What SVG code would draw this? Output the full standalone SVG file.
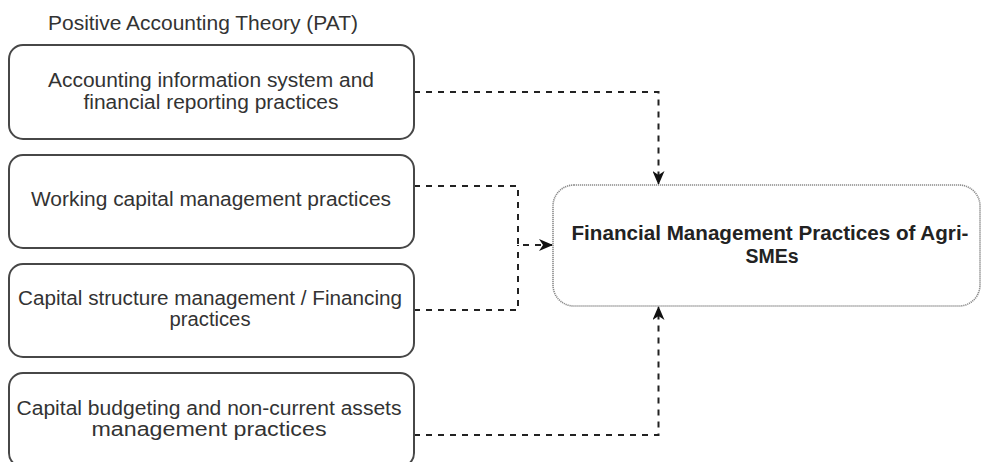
<svg xmlns="http://www.w3.org/2000/svg" width="982" height="462" viewBox="0 0 982 462">
<defs>
<style>
.box{fill:#ffffff;stroke:#474747;stroke-width:2}
.main{fill:#ffffff;stroke:#8a8a8a;stroke-width:1.6;stroke-dasharray:1.2 0.8}
.t{font-family:"Liberation Sans",Arial,sans-serif;font-size:20px;fill:#333333;text-anchor:middle}
.tb{font-family:"Liberation Sans",Arial,sans-serif;font-size:19.5px;font-weight:bold;fill:#222222;text-anchor:middle}
.title{font-family:"Liberation Sans",Arial,sans-serif;font-size:20px;fill:#333333}
.c{fill:none;stroke:#222222;stroke-width:2;stroke-dasharray:6 6}
</style>
<marker id="arr" viewBox="0 0 14 12" refX="13" refY="6" markerWidth="14" markerHeight="12" markerUnits="userSpaceOnUse" orient="auto">
<path d="M0,0 L14,6 L0,12 L4,6 Z" fill="#111111"/>
</marker>
</defs>
<rect width="982" height="462" fill="#ffffff"/>
<text class="title" x="48" y="30" textLength="310" lengthAdjust="spacingAndGlyphs">Positive Accounting Theory (PAT)</text>
<g id="connectors">
<path class="c" d="M414,92 H658.5 V184" marker-end="url(#arr)"/>
<path class="c" d="M414,186 H518 V245 H552" marker-end="url(#arr)"/>
<path class="c" d="M414,310 H518 V245"/>
<path class="c" d="M414,435 H658.5 V307" marker-end="url(#arr)"/>
</g>
<g id="node-ais">
<rect class="box" x="9" y="45" width="405" height="94" rx="14"/>
<text class="t" x="211" y="87" textLength="326" lengthAdjust="spacingAndGlyphs">Accounting information system and</text>
<text class="t" x="211" y="109" textLength="255" lengthAdjust="spacingAndGlyphs">financial reporting practices</text>
</g>
<g id="node-wcm">
<rect class="box" x="9" y="155" width="405" height="93" rx="14"/>
<text class="t" x="211" y="206" textLength="360" lengthAdjust="spacingAndGlyphs">Working capital management practices</text>
</g>
<g id="node-csm">
<rect class="box" x="9" y="264" width="405" height="93" rx="14"/>
<text class="t" x="210" y="305" textLength="384" lengthAdjust="spacingAndGlyphs">Capital structure management / Financing</text>
<text class="t" x="210" y="326" textLength="81" lengthAdjust="spacingAndGlyphs">practices</text>
</g>
<g id="node-cb">
<rect class="box" x="9" y="373" width="405" height="94" rx="14"/>
<text class="t" x="209" y="415" textLength="385" lengthAdjust="spacingAndGlyphs">Capital budgeting and non-current assets</text>
<text class="t" x="209" y="436" textLength="235" lengthAdjust="spacingAndGlyphs">management practices</text>
</g>
<g id="node-fmp">
<rect class="main" x="553" y="185" width="427" height="121" rx="21"/>
<text class="tb" x="770" y="240" textLength="397" lengthAdjust="spacingAndGlyphs">Financial Management Practices of Agri-</text>
<text class="tb" x="772" y="263">SMEs</text>
</g>
</svg>
